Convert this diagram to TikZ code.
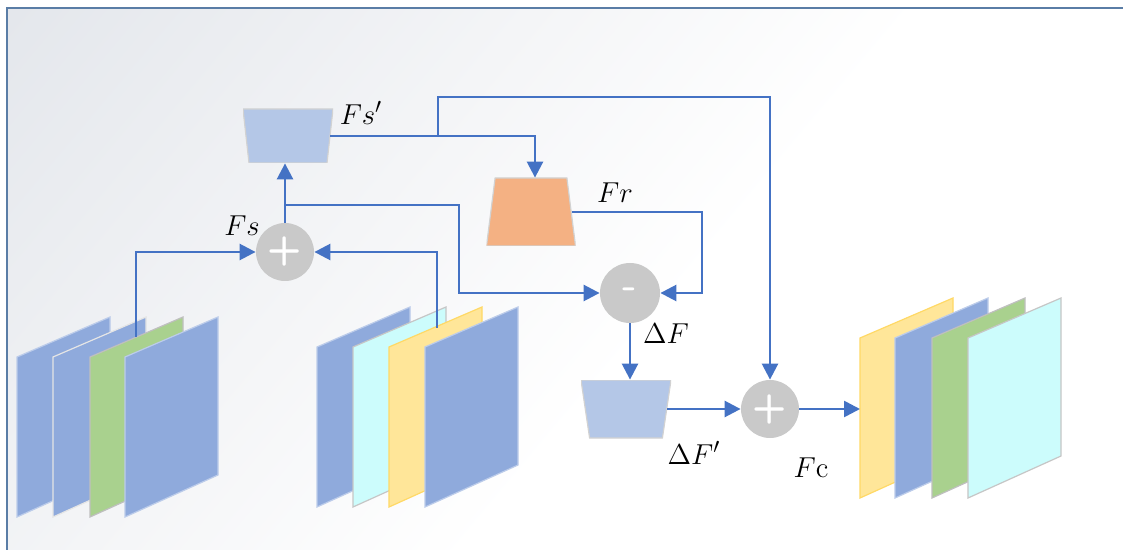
\documentclass[tikz,border=0pt]{standalone}
\usepackage{tikz}
\usepackage{amsmath}
\usetikzlibrary{positioning, arrows.meta, shapes.geometric, calc}

\definecolor{flowblue}{HTML}{4472C4}
\definecolor{encblue}{HTML}{B4C7E7}
\definecolor{decorange}{HTML}{F4B183}
\definecolor{featblue}{HTML}{8FAADC}
\definecolor{featgreen}{HTML}{A9D18E}
\definecolor{featcyan}{HTML}{CCFCFC}
\definecolor{featyellow}{HTML}{FFE699}
\definecolor{yellowedge}{HTML}{FFD966}
\definecolor{opgray}{HTML}{C9C9C9}
\definecolor{framec}{HTML}{5A7DA6}
\definecolor{bgtl}{HTML}{E4E7EC}
\definecolor{bgmid}{HTML}{F4F5F7}

\pgfdeclareverticalshading{bgfade}{100bp}{color(0bp)=(white); color(45bp)=(white); color(62bp)=(bgmid); color(85bp)=(bgtl); color(100bp)=(bgtl)}

\begin{document}
\begin{tikzpicture}[x=0.5pt, y=-0.5pt,
    flow/.style={draw=flowblue, line width=1.3pt, -{Triangle[length=8pt, width=8pt]}},
    % wide top, narrow bottom
    enc/.style={inner sep=0pt, path picture={
        \filldraw[fill=encblue, draw=gray!35, line width=0.6pt]
            (path picture bounding box.north west) -- (path picture bounding box.north east)
            -- ([xshift=-#1]path picture bounding box.south east)
            -- ([xshift=#1]path picture bounding box.south west) -- cycle;}},
    % narrow top, wide bottom
    dec/.style={inner sep=0pt, path picture={
        \filldraw[fill=decorange, draw=gray!35, line width=0.6pt]
            ([xshift=#1]path picture bounding box.north west) -- ([xshift=-#1]path picture bounding box.north east)
            -- (path picture bounding box.south east)
            -- (path picture bounding box.south west) -- cycle;}},
    op/.style={circle, fill=opgray, minimum size=29pt, inner sep=0pt, text=white, font=\sffamily\bfseries\fontsize{20}{20}\selectfont},
    lab/.style={font=\fontsize{15}{18}\selectfont, inner sep=0pt},
    fmap/.style={line width=0.6pt}
]

\clip (0,0) rectangle (1123,550);
\useasboundingbox (0,0) rectangle (1123,550);

% Background and frame
\shade[shading=bgfade, shading angle=50] (7,8) rectangle (1140,570);
\draw[framec, line width=1pt] (7,8) rectangle (1140,570);

% === Feature maps ===
% input stack 1
\foreach \x/\fc/\ec in {17/featblue/featblue!60!white, 53/featblue/white!80!gray, 90/featgreen/gray!50, 125/featblue/featblue!60!white}
    \draw[fmap, fill=\fc, draw=\ec] (\x,357) -- ++(93,-40) -- ++(0,158) -- ++(-93,42) -- cycle;
% input stack 2
\foreach \x/\fc/\ec in {317/featblue/featblue!60!white, 353/featcyan/gray!45, 389/featyellow/yellowedge, 425/featblue/featblue!60!white}
    \draw[fmap, fill=\fc, draw=\ec] (\x,347) -- ++(93,-40) -- ++(0,158) -- ++(-93,42) -- cycle;
% output stack
\foreach \x/\fc/\ec in {860/featyellow/yellowedge, 895/featblue/featblue!60!white, 932/featgreen/gray!50, 968/featcyan/gray!45}
    \draw[fmap, fill=\fc, draw=\ec] (\x,338) -- ++(93,-40) -- ++(0,158) -- ++(-93,42) -- cycle;

\coordinate (instack1) at (136,337);
\coordinate (instack2) at (437,328);
\coordinate (outstack) at (860,409);

% === Blocks ===
\node[enc=3pt, minimum width=45pt, minimum height=27pt] (enc1) at (288,136) {};
\node[dec=4.3pt, minimum width=44.5pt, minimum height=34pt] (dec1) at (531,212) {};
\node[enc=4.3pt, minimum width=45pt, minimum height=29pt] (enc2) at (626,409) {};

% Operators
\node[op] (add1) at (285,252) {+};
\node[op, minimum size=30pt] (sub1) at (630,293) {-};
\node[op] (add2) at (770,409) {+};

% Labels
\node[lab] (fsp) at (361,113) {$Fs'$};
\node[lab] (fs) at (242,226) {$Fs$};
\node[lab] (fr) at (615,193) {$Fr$};
\node[lab] (df) at (666,334) {$\Delta F$};
\node[lab] (dfp) at (694,453) {$\Delta F'$};
\node[lab] (fc) at (811,468) {$F\mathrm{c}$};

% === Connections ===
\coordinate (bend1) at (459,205);
\coordinate (bend2) at (438,97);
\coordinate (bend3) at (702,212);

\draw[flow] (instack1) |- (add1.west);
\draw[flow] (instack2) |- (add1.east);
\draw[flow] (add1.north) -- (add1.north |- enc1.south);
\draw[flow] (add1.north |- bend1) -- (bend1) |- (sub1.west);
\draw[flow] ([xshift=-1.5pt]enc1.east) -| ([xshift=2pt]dec1.north);
\draw[flow] (bend2 |- enc1.east) -- (bend2) -| (add2.north);
\draw[flow] ([xshift=-2pt]dec1.east) -- (bend3) |- (sub1.east);
\draw[flow] (sub1.south) -- (sub1.south |- enc2.north);
\draw[flow] ([xshift=-2pt]enc2.east) -- (add2.west);
\draw[flow] (add2.east) -- (outstack);

\end{tikzpicture}
\end{document}
